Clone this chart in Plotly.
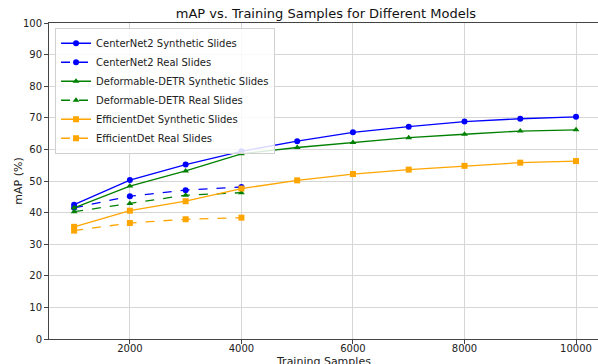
import plotly.graph_objects as go

samples = [1000, 2000, 3000, 4000, 5000, 6000, 7000, 8000, 9000, 10000]
real_samples = [1000, 2000, 3000, 4000]

centernet_syn = [42.5, 50.3, 55.2, 59.4, 62.6, 65.4, 67.2, 68.8, 69.7, 70.3]
centernet_real = [41.5, 45.2, 47.1, 48.1]
detr_syn = [41.5, 48.4, 53.2, 58.6, 60.6, 62.2, 63.7, 64.8, 65.8, 66.2]
detr_real = [40.3, 42.9, 45.5, 46.3]
effdet_syn = [35.5, 40.6, 43.6, 47.6, 50.2, 52.2, 53.6, 54.8, 55.8, 56.3]
effdet_real = [34.3, 36.7, 37.9, 38.4]

x_ticks = [2000, 4000, 6000, 8000, 10000]
y_ticks = list(range(0, 101, 10))

series = [
    ("CenterNet2 Synthetic Slides", samples, centernet_syn, "blue", "solid", "circle"),
    ("CenterNet2 Real Slides", real_samples, centernet_real, "blue", "dash", "circle"),
    ("Deformable-DETR Synthetic Slides", samples, detr_syn, "green", "solid", "triangle-up"),
    ("Deformable-DETR Real Slides", real_samples, detr_real, "green", "dash", "triangle-up"),
    ("EfficientDet Synthetic Slides", samples, effdet_syn, "orange", "solid", "square"),
    ("EfficientDet Real Slides", real_samples, effdet_real, "orange", "dash", "square"),
]

fig = go.Figure()
for name, xs, ys, color, dash, sym in series:
    fig.add_trace(go.Scatter(
        x=xs, y=ys, name=name, mode="lines+markers",
        line=dict(color=color, width=1.3, dash=dash),
        marker=dict(color=color, symbol=sym, size=6),
    ))

font = "DejaVu Sans, sans-serif"
fig.update_layout(
    width=598, height=364,
    margin=dict(l=49, r=0, t=23, b=25),
    paper_bgcolor="white", plot_bgcolor="white",
    font=dict(family=font, size=10, color="#222"),
    title=dict(text="mAP vs. Training Samples for Different Models",
               x=0.545, xanchor="center", y=0.962, yanchor="middle",
               font=dict(size=13, color="#111")),
    legend=dict(x=0.011, y=0.985, xanchor="left", yanchor="top",
                bgcolor="rgba(255,255,255,0.85)", bordercolor="#d0d0d0", borderwidth=1,
                font=dict(size=10, color="#222"), tracegroupgap=0,
                itemwidth=30),
    showlegend=True,
    annotations=[
        dict(text="Training Samples", xref="paper", yref="paper", x=0.5, y=-0.049,
             xanchor="center", yanchor="top", showarrow=False, borderpad=0,
             font=dict(size=11, color="#222")),
        dict(text="mAP (%)", xref="paper", yref="paper", x=-0.057, y=0.5,
             xanchor="center", yanchor="middle", textangle=-90, showarrow=False,
             font=dict(size=11, color="#222")),
    ],
)
fig.update_xaxes(
    range=[550, 10394], tickvals=x_ticks, ticktext=[str(v) for v in x_ticks],
    showgrid=True, gridcolor="#d6d6d6", gridwidth=1,
    showline=True, linecolor="#444", linewidth=1, mirror=True,
    ticks="outside", ticklen=4, tickcolor="#444", ticklabelstandoff=-4,
    zeroline=False, automargin=False,
)
fig.update_yaxes(
    range=[0, 100], tickvals=y_ticks,
    showgrid=True, gridcolor="#d6d6d6", gridwidth=1,
    showline=True, linecolor="#444", linewidth=1,
    ticks="outside", ticklen=4, tickcolor="#444",
    zeroline=False, automargin=False,
)

fig.write_html("out.html")
